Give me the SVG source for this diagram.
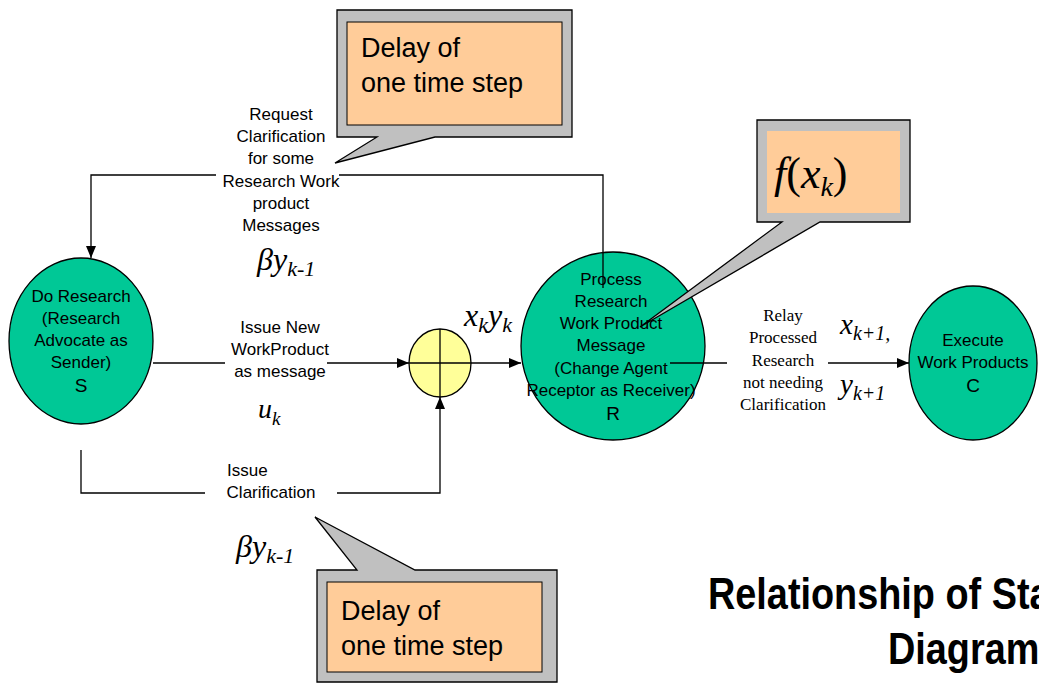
<svg xmlns="http://www.w3.org/2000/svg" width="1039" height="685" viewBox="0 0 1039 685">
<defs>
<marker id="arr" viewBox="0 0 12 10" refX="12" refY="5" markerWidth="12" markerHeight="10" markerUnits="userSpaceOnUse" orient="auto">
<path d="M0,0 L12,5 L0,10 Z" fill="#000"/>
</marker>
<style>
.node{fill:#00C896;stroke:#000;stroke-width:1.3}
.sum{fill:#FFFF99;stroke:#000;stroke-width:1.3}
.lbl{font-family:"Liberation Sans",Arial,sans-serif;font-size:17px;fill:#000;text-anchor:middle}
.tlbl{font-family:"Liberation Serif","Times New Roman",serif;font-size:17px;fill:#000;text-anchor:middle}
.math{font-family:"Liberation Serif","Times New Roman",serif;font-style:italic;fill:#000}
.conn{fill:none;stroke:#000;stroke-width:1.3}
.callout{fill:#C0C0C0;stroke:#000;stroke-width:1.3}
.inner{fill:#FFCC99}
.ctext{font-family:"Liberation Sans",Arial,sans-serif;font-size:27px;fill:#000}
.title{font-family:"Liberation Sans",Arial,sans-serif;font-weight:bold;font-size:44px;fill:#000}
</style>
</defs>
<rect width="1039" height="685" fill="#fff"/>

<g id="node-S">
<ellipse class="node" cx="81" cy="341" rx="72" ry="83"/>
<text class="lbl" x="81" y="302">Do Research</text>
<text class="lbl" x="81" y="324">(Research</text>
<text class="lbl" x="81" y="346">Advocate as</text>
<text class="lbl" x="81" y="368">Sender)</text>
<text class="lbl" x="81" y="392" style="font-size:19px">S</text>
</g>

<g id="node-sum">
<ellipse class="sum" cx="440" cy="363" rx="31" ry="34"/>
<path class="conn" d="M409,363 H471 M440,329 V397"/>
</g>

<g id="node-R">
<ellipse class="node" cx="613" cy="346" rx="92" ry="94"/>
<text class="lbl" x="611" y="285">Process</text>
<text class="lbl" x="611" y="307">Research</text>
<text class="lbl" x="611" y="329">Work Product</text>
<text class="lbl" x="611" y="351">Message</text>
<text class="lbl" x="611" y="374">(Change Agent</text>
<text class="lbl" x="611" y="396">Receptor as Receiver)</text>
<text class="lbl" x="613" y="420" style="font-size:19px">R</text>
</g>

<g id="node-C">
<ellipse class="node" cx="973" cy="363" rx="64" ry="77"/>
<text class="lbl" x="973" y="346">Execute</text>
<text class="lbl" x="973" y="368">Work Products</text>
<text class="lbl" x="973" y="392" style="font-size:19px">C</text>
</g>

<g id="connectors">
<path class="conn" d="M216,175 H91 V258" marker-end="url(#arr)"/>
<path class="conn" d="M339,175 H603 V288"/>
<path class="conn" d="M153,363 H225"/>
<path class="conn" d="M327,363 H409" marker-end="url(#arr)"/>
<path class="conn" d="M471,363 H521" marker-end="url(#arr)"/>
<path class="conn" d="M81,450 V493 H205"/>
<path class="conn" d="M337,493 H440 V397" marker-end="url(#arr)"/>
<path class="conn" d="M670,363 H727"/>
<path class="conn" d="M828,363 H909" marker-end="url(#arr)"/>
</g>

<g id="label-request">
<text class="lbl" x="281" y="120">Request</text>
<text class="lbl" x="281" y="142">Clarification</text>
<text class="lbl" x="281" y="164">for some</text>
<text class="lbl" x="281" y="187">Research Work</text>
<text class="lbl" x="281" y="209">product</text>
<text class="lbl" x="281" y="231">Messages</text>
<text class="math" x="257" y="270" style="font-size:32px">β<tspan>y</tspan><tspan style="font-size:22px" dy="6">k-1</tspan></text>
</g>

<g id="label-issue-new">
<text class="lbl" x="280" y="333">Issue New</text>
<text class="lbl" x="280" y="355">WorkProduct</text>
<text class="lbl" x="280" y="377">as message</text>
<text class="math" x="258" y="418" style="font-size:28px">u<tspan style="font-size:19px" dy="7">k</tspan></text>
</g>

<g id="label-xkyk">
<text class="math" x="464" y="326" style="font-size:32px">x<tspan style="font-size:22px" dy="6">k</tspan><tspan dy="-6">y</tspan><tspan style="font-size:22px" dy="6">k</tspan></text>
</g>

<g id="label-issue-clar">
<text class="lbl" x="227" y="476" style="text-anchor:start">Issue</text>
<text class="lbl" x="271" y="498">Clarification</text>
<text class="math" x="236" y="557" style="font-size:32px">β<tspan>y</tspan><tspan style="font-size:22px" dy="6">k-1</tspan></text>
</g>

<g id="label-relay">
<text class="tlbl" x="783" y="321">Relay</text>
<text class="tlbl" x="783" y="343">Processed</text>
<text class="tlbl" x="783" y="366">Research</text>
<text class="tlbl" x="783" y="388">not needing</text>
<text class="tlbl" x="783" y="410">Clarification</text>
<text class="math" x="840" y="334" style="font-size:29px">x<tspan style="font-size:20px" dy="6">k+1,</tspan></text>
<text class="math" x="840" y="394" style="font-size:29px">y<tspan style="font-size:20px" dy="6">k+1</tspan></text>
</g>

<g id="callout-top">
<path class="callout" d="M337,10 H572 V137 H435 L335,163 L377,137 H337 Z"/>
<rect class="inner" x="347" y="22" width="215" height="103" stroke="#000" stroke-width="1"/>
<text class="ctext" x="361" y="57">Delay of</text>
<text class="ctext" x="361" y="92">one time step</text>
</g>

<g id="callout-fx">
<path class="callout" d="M757,120 H910 V222 H820 L640,327 L782,222 H757 Z"/>
<rect class="inner" x="767" y="131" width="133" height="82"/>
<text class="math" x="774" y="188" style="font-size:44px">f<tspan style="font-style:normal">(</tspan>x<tspan style="font-size:28px" dy="8">k</tspan><tspan style="font-style:normal" dy="-8">)</tspan></text>
</g>

<g id="callout-bottom">
<path class="callout" d="M317,570 H357 L315,517 L415,570 H557 V682 H317 Z"/>
<rect class="inner" x="327" y="582" width="215" height="90" stroke="#000" stroke-width="1"/>
<text class="ctext" x="341" y="620">Delay of</text>
<text class="ctext" x="341" y="655">one time step</text>
</g>

<g id="title">
<text class="title" x="708" y="609" transform="translate(708,0) scale(0.86,1) translate(-708,0)">Relationship of Sta</text>
<text class="title" x="888" y="664" transform="translate(888,0) scale(0.86,1) translate(-888,0)">Diagram</text>
</g>
</svg>
